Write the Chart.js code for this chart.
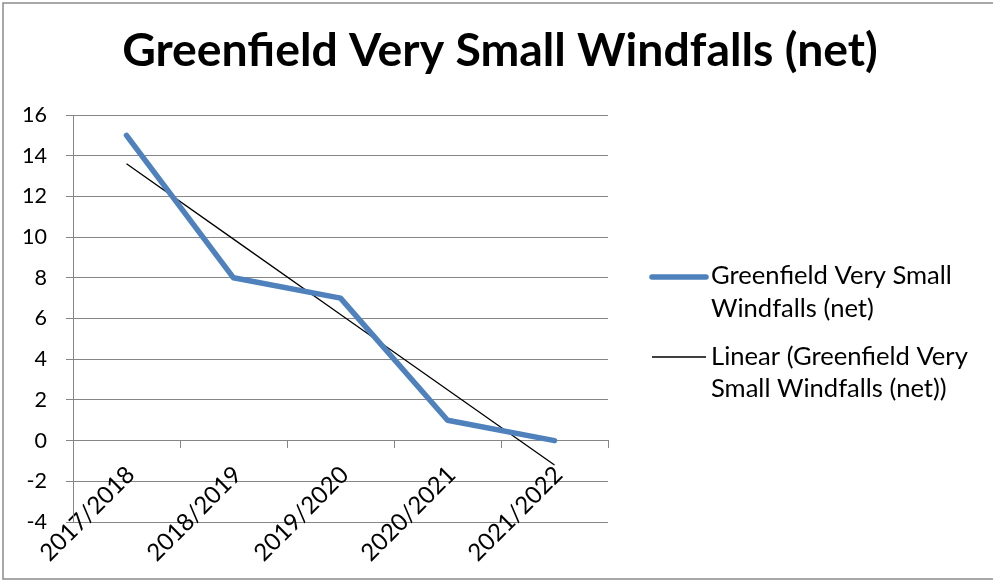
<!DOCTYPE html>
<html><head><meta charset="utf-8">
<script src="https://cdn.jsdelivr.net/npm/chart.js@4.4.1/dist/chart.umd.min.js"></script>
<style>html,body{margin:0;padding:0;background:#fff;overflow:hidden}#wrap{width:993px;height:581px;position:relative}</style>
</head><body><div id="wrap"><canvas id="c" width="993" height="581"></canvas></div>
<script>
const categories = ['2017/2018', '2018/2019', '2019/2020', '2020/2021', '2021/2022'];
const seriesValues = [15, 8, 7, 1, 0];
const trendValues = [13.6, 9.9, 6.2, 2.5, -1.2];
const yTicks = [-4, -2, 0, 2, 4, 6, 8, 10, 12, 14, 16];
const titleText = 'Greenfield Very Small Windfalls (net)';
const seriesName = 'Greenfield Very Small Windfalls (net)';
const trendName = 'Linear (Greenfield Very Small Windfalls (net))';
const legendSeriesLines = ['Greenfield Very Small', 'Windfalls (net)'];
const legendTrendLines = ['Linear (Greenfield Very', 'Small Windfalls (net))'];

const FAM = 'Lato, "Open Sans", sans-serif';
const GRID = '#868686';
const BLUE = '#4F81BD';
const mctx = document.createElement('canvas').getContext('2d');
function fit(text, weight, target) {
  mctx.font = weight + ' 100px ' + FAM;
  return 100 * target / mctx.measureText(text).width;
}
const titleSize = fit(titleText, 'bold', 756);
const tickSize = fit('16', 'normal', 25);
const xLabelSize = fit('2017/2018', 'normal', 122);
const legendSize = fit(legendSeriesLines[0], 'normal', 241);

const frame = {
  id: 'frame',
  beforeDraw(chart) {
    const ctx = chart.ctx;
    ctx.save();
    ctx.fillStyle = '#fff';
    ctx.fillRect(0, 0, chart.width, chart.height);
    ctx.restore();
  },
  afterDraw(chart) {
    const ctx = chart.ctx;
    ctx.save();
    ctx.strokeStyle = '#8c8c8c';
    ctx.lineWidth = 1.5;
    ctx.beginPath();
    ctx.moveTo(995, 3); ctx.lineTo(3, 3); ctx.lineTo(3, 579); ctx.lineTo(995, 579);
    ctx.stroke();
    // title
    ctx.fillStyle = '#000';
    ctx.font = 'bold ' + titleSize + 'px ' + FAM;
    ctx.textAlign = 'center';
    ctx.textBaseline = 'alphabetic';
    ctx.fillText(titleText, 500, 66);
    // legend
    ctx.lineCap = 'round';
    ctx.strokeStyle = BLUE;
    ctx.lineWidth = 5.5;
    ctx.beginPath(); ctx.moveTo(652, 277); ctx.lineTo(706, 277); ctx.stroke();
    ctx.lineCap = 'butt';
    ctx.strokeStyle = '#000';
    ctx.lineWidth = 1.3;
    ctx.beginPath(); ctx.moveTo(652, 357); ctx.lineTo(706, 357); ctx.stroke();
    ctx.font = 'normal ' + legendSize + 'px ' + FAM;
    ctx.textAlign = 'left';
    ctx.fillText(legendSeriesLines[0], 711, 284);
    ctx.fillText(legendSeriesLines[1], 711, 317);
    ctx.fillText(legendTrendLines[0], 711, 365);
    ctx.fillText(legendTrendLines[1], 711, 397);
    ctx.restore();
  }
};

new Chart(document.getElementById('c'), {
  type: 'line',
  data: {
    labels: categories,
    datasets: [
      { label: seriesName, data: seriesValues, borderColor: BLUE, backgroundColor: BLUE,
        borderWidth: 5.5, pointRadius: 0, borderCapStyle: 'round', borderJoinStyle: 'round', tension: 0 },
      { label: trendName, data: trendValues, borderColor: '#000', backgroundColor: '#000',
        borderWidth: 1.3, pointRadius: 0, tension: 0 }
    ]
  },
  options: {
    responsive: false,
    animation: false,
    devicePixelRatio: 1,
    layout: { padding: { left: 0, right: 385, bottom: 59, top: 115 } },
    plugins: {
      legend: { display: false },
      tooltip: { enabled: false },
      title: { display: false }
    },
    scales: {
      x: {
        type: 'category',
        position: { y: 0 },
        offset: true,
        grid: { drawOnChartArea: false, drawTicks: true, tickLength: 7, color: GRID, offset: true },
        border: { display: true, color: GRID, width: 1 },
        ticks: { minRotation: 45, maxRotation: 45, autoSkip: false, padding: 13, labelOffset: 4, color: '#000',
          font: { family: FAM, size: xLabelSize } }
      },
      y: {
        min: -4, max: 16,
        afterBuildTicks(s) { s.ticks = yTicks.map(v => ({ value: v })); },
        afterFit(s) { s.width = 73; },
        grid: { color: GRID, tickLength: 7, drawTicks: true },
        border: { display: true, color: GRID, width: 1 },
        ticks: { padding: 19, color: '#000', font: { family: FAM, size: tickSize } }
      }
    }
  },
  plugins: [frame]
});
</script>
</body></html>
